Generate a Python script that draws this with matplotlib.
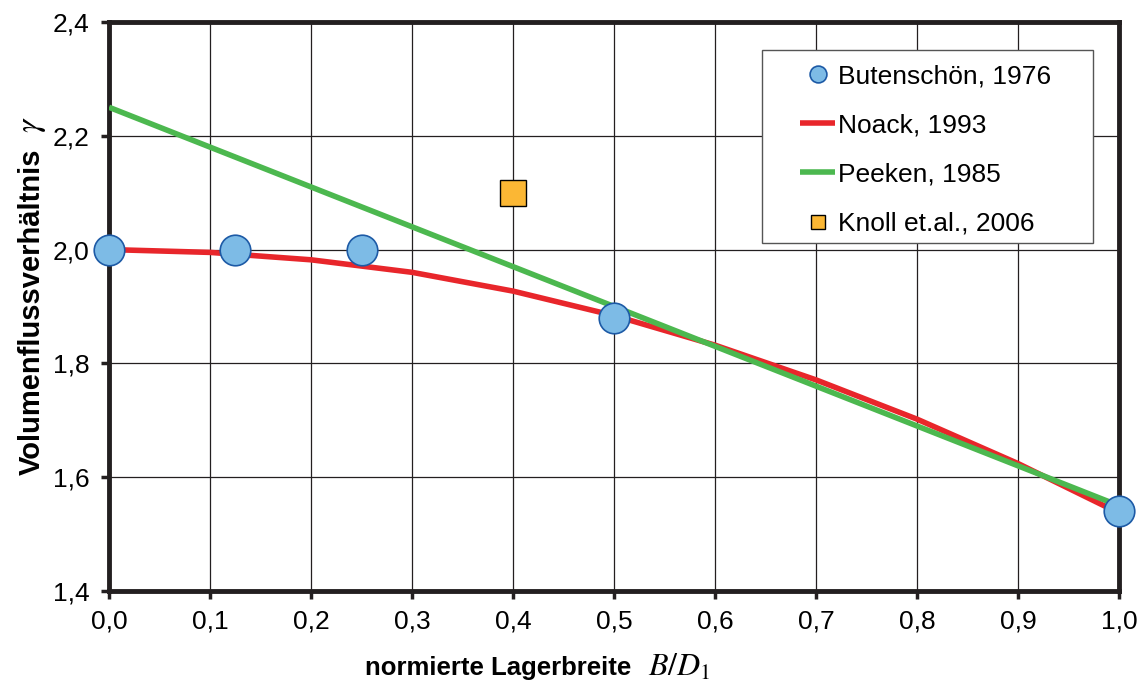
import matplotlib
matplotlib.use("Agg")
import matplotlib.pyplot as plt
from matplotlib.patches import Rectangle

plt.rcParams['font.family'] = ['Liberation Sans', 'DejaVu Sans']
plt.rcParams['mathtext.fontset'] = 'stix'

# Butenschön 1976 (measured points)
but_x = [0.0, 0.125, 0.25, 0.5, 1.0]
but_y = [2.0, 2.0, 2.0, 1.88, 1.54]

# Noack 1993 (curve)
noack_x = [0.0, 0.1, 0.2, 0.3, 0.4, 0.5, 0.6, 0.7, 0.8, 0.9, 1.0]
noack_y = [2.0, 1.995, 1.982, 1.96, 1.927, 1.884, 1.832, 1.771, 1.702, 1.624, 1.537]

# Peeken 1985 (straight line)
peeken_x = [0.0, 1.0]
peeken_y = [2.25, 1.55]

# Knoll et.al. 2006
knoll_x = [0.4]
knoll_y = [2.1]

xticks = [0.0, 0.1, 0.2, 0.3, 0.4, 0.5, 0.6, 0.7, 0.8, 0.9, 1.0]
xlabels = ["0,0", "0,1", "0,2", "0,3", "0,4", "0,5", "0,6", "0,7", "0,8", "0,9", "1,0"]
yticks = [1.4, 1.6, 1.8, 2.0, 2.2, 2.4]
ylabels = ["1,4", "1,6", "1,8", "2,0", "2,2", "2,4"]

fig = plt.figure(figsize=(11.43, 6.89), dpi=100)
ax = fig.add_axes([0.0954, 0.1422, 0.8836, 0.826])

ax.plot(noack_x, noack_y, color='#e8262b', lw=4, label='Noack, 1993', zorder=3, solid_capstyle='butt')
ax.plot(peeken_x, peeken_y, color='#4cb84f', lw=4, label='Peeken, 1985', zorder=4, solid_capstyle='butt')
ax.plot(but_x, but_y, 'o', ms=22, mfc='#7dbbe6', mec='#1d5aa6', mew=1.2,
        label='Butenschön, 1976', zorder=5, clip_on=False)
ax.plot(knoll_x, knoll_y, 's', ms=19, mfc='#fbb734', mec='black', mew=1.0,
        label='Knoll et.al., 2006', zorder=5)

ax.set_xlim(0, 1.0)
ax.set_ylim(1.4, 2.4)
ax.set_xticks(xticks)
ax.set_xticklabels(xlabels)
ax.set_yticks(yticks)
ax.set_yticklabels(ylabels)
ax.tick_params(direction='out', length=6, width=2.5, labelsize=19, color='#231f20')
ax.tick_params(axis='y', pad=8)
ax.tick_params(axis='x', pad=7)
ax.grid(True, color='#231f20', lw=0.9)
ax.set_axisbelow(True)
for sp in ax.spines.values():
    sp.set_linewidth(3.5)
    sp.set_color('#231f20')

# axis labels (symbol parts drawn separately, larger, like the original)
ax.set_xlabel("normierte Lagerbreite", fontsize=18.5, fontweight='bold')
ax.xaxis.set_label_coords(0.3856, -0.135)
ax.xaxis.label.set_va('center')
fig.text(648 / 1143, 1 - 668 / 689, r"$B/D_1$", ha='left', va='center', fontsize=23)

ax.set_ylabel("Volumenflussverhältnis", fontsize=21, fontweight='bold')
ax.yaxis.set_label_coords(-0.076, 0.49)
ax.yaxis.label.set_va('center')
fig.text(33 / 1143, 1 - 125 / 689, r"$\gamma$", rotation=90, ha='center', va='center', fontsize=24)

# legend
handles, labels = ax.get_legend_handles_labels()
order = [2, 0, 1, 3]
leg = ax.legend([handles[i] for i in order], [labels[i] for i in order],
                loc='upper left', bbox_to_anchor=(0.684, 0.925), fontsize=19,
                frameon=False, markerscale=0.55, labelspacing=0.95, handlelength=1.35,
                handletextpad=0.1, borderpad=0, borderaxespad=0)
ax.add_patch(Rectangle((0.6465, 0.612), 0.3277, 0.339, transform=ax.transAxes,
                       facecolor='white', edgecolor='#555555', lw=1.0, zorder=6))
leg.set_zorder(7)

fig.savefig('out.png', dpi=100)
